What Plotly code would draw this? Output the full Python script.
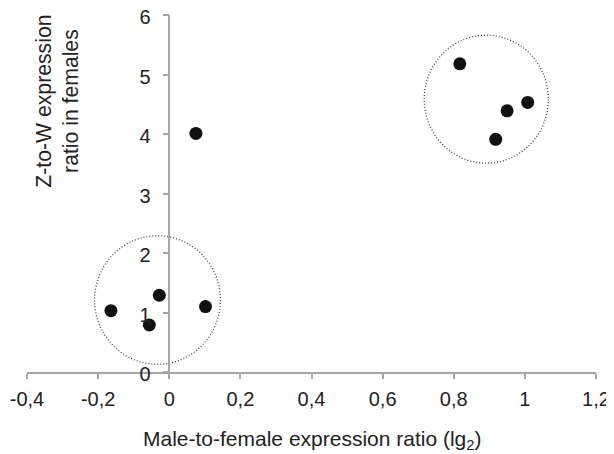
import plotly.graph_objects as go

# Data
male_female_ratio = [-0.164, -0.056, -0.028, 0.102, 0.075, 0.817, 0.950, 1.008, 0.918]
z_to_w_ratio      = [1.03, 0.79, 1.29, 1.10, 4.01, 5.18, 4.39, 4.53, 3.91]

x_ticks = [-0.4, -0.2, 0, 0.2, 0.4, 0.6, 0.8, 1.0, 1.2]
x_tick_labels = ["-0,4", "-0,2", "0", "0,2", "0,4", "0,6", "0,8", "1", "1,2"]
y_ticks = [0, 1, 2, 3, 4, 5, 6]
y_tick_labels = ["0", "1", "2", "3", "4", "5", "6"]

# Dotted cluster circles (x0, x1, y0, y1) in data units
cluster_low = [-0.210, 0.144, 0.13, 2.29]
cluster_high = [0.717, 1.066, 3.51, 5.66]

FONT = "Liberation Sans, Arial, Helvetica, sans-serif"
AXIS_COLOR = "#a6a6a6"
TEXT_COLOR = "#222222"

# the page body adds an 8px offset, so the figure is 8px smaller
fig = go.Figure()
fig.add_trace(go.Scatter(
    x=male_female_ratio, y=z_to_w_ratio, mode="markers",
    marker=dict(size=13, color="#111111", line=dict(width=0)),
    showlegend=False, hoverinfo="skip",
))

for c in (cluster_low, cluster_high):
    fig.add_shape(type="circle", xref="x", yref="y",
                  x0=c[0], x1=c[1], y0=c[2], y1=c[3],
                  line=dict(color="#444444", width=1.3, dash="1px,2px"),
                  layer="below")

fig.update_layout(
    width=606, height=446,
    margin=dict(l=19, r=18, t=7, b=82, autoexpand=False),
    paper_bgcolor="white", plot_bgcolor="white",
    font=dict(family=FONT, size=20, color=TEXT_COLOR),
    xaxis=dict(range=[-0.4, 1.2], tickvals=x_ticks, ticktext=x_tick_labels,
               automargin=False, ticklabeloverflow="allow",
               showgrid=False, zeroline=False, showline=True,
               linecolor=AXIS_COLOR, linewidth=1.5,
               ticks="outside", ticklen=5, tickcolor=AXIS_COLOR, tickwidth=1.5,
               ticklabelstandoff=3,
               tickfont=dict(family=FONT, size=20, color=TEXT_COLOR)),
    yaxis=dict(range=[0, 6], tickvals=y_ticks, ticktext=y_tick_labels,
               anchor="free", position=0.25, automargin=False,
               ticklabeloverflow="allow", ticklabelshift=2,
               showgrid=False, zeroline=False, showline=True,
               linecolor=AXIS_COLOR, linewidth=1.5,
               ticks="outside", ticklen=6, tickcolor=AXIS_COLOR, tickwidth=1.5,
               ticklabelstandoff=8,
               tickfont=dict(family=FONT, size=20, color=TEXT_COLOR)),
)

fig.add_annotation(xref="paper", yref="paper", x=0.052, y=0.759,
                   text="Z-to-W expression<br>ratio in females", textangle=-90,
                   showarrow=False, xanchor="center", yanchor="middle",
                   font=dict(family=FONT, size=21.2, color=TEXT_COLOR))
fig.add_annotation(xref="paper", yref="paper", x=0.5, y=-0.19,
                   text="Male-to-female expression ratio (lg<sub>2</sub>)",
                   showarrow=False, xanchor="center", yanchor="middle",
                   font=dict(family=FONT, size=21, color=TEXT_COLOR))

fig.write_html("out.html")
